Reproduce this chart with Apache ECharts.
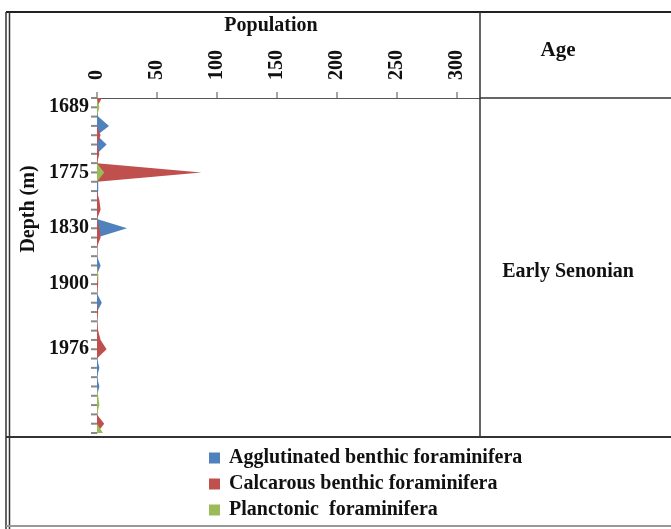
<!DOCTYPE html>
<html>
<head>
<meta charset="utf-8">
<script src="https://cdn.jsdelivr.net/npm/echarts@6/dist/echarts.min.js"></script>
<style>html,body{margin:0;padding:0;background:#fff}#c{width:671px;height:529px}</style>
</head>
<body>
<div id="c"></div>
<script>
// sample positions (top to bottom) and the depth labels shown on the axis
const categories = ['S1','S2','S3','S4','S5','S6','S7','S8','S9','S10','S11','S12','S13','S14','S15','S16','S17','S18','S19','S20','S21','S22','S23','S24','S25','S26','S27','S28','S29','S30','S31','S32','S33','S34','S35','S36','S37'];
const depthLabels = ['','1689','','','','','','','1775','','','','','','1830','','','','','','1900','','','','','','','1976','','','','','','','','',''];
const xTicks = [0, 50, 100, 150, 200, 250, 300];
const seriesNames = ['Agglutinated benthic foraminifera', 'Calcarous benthic foraminifera', 'Planctonic  foraminifera'];
const agglutinated = [0,0,1,10,0,8,0,0,1,1,1,0,0,0,25,0,0,0,3,0,0,0,4,0,0,0,0,0,0,2,0,2,0,0,0,0,0];
const calcarous    = [4,0,0,0,3,0,2,0,87,0,0,2,3,0,2,3,0,0,0,1,1,0,0,1,0,1,3,8,0,0,0,0,0,0,0,6,0];
const planctonic   = [0,2,0,0,0,0,0,0,6,0,0,0,0,0,0,0,0,0,0,1,0,0,0,0,0,0,0,0,0,0,0,0,1,2,0,0,5];

const FONT = 'Liberation Serif';
const colors = ['#4F81BD', '#C0504D', '#9BBB59'];
const chart = echarts.init(document.getElementById('c'), null, {renderer: 'canvas'});

function mkSeries(name, data, color, z) {
  return {
    name: name, type: 'line', data: data, symbol: 'none', z: z,
    lineStyle: {width: 0}, itemStyle: {color: color},
    areaStyle: {color: color, opacity: 1}
  };
}
function line(x1, y1, x2, y2, w, c) {
  return {type: 'line', shape: {x1: x1, y1: y1, x2: x2, y2: y2}, style: {stroke: c, lineWidth: w}, silent: true, z: 100};
}
function txt(x, y, t, size, rot) {
  return {type: 'text', x: x, y: y, rotation: rot || 0, z: 100,
    style: {text: t, font: 'bold ' + size + 'px "' + FONT + '"', fill: '#111', align: 'center', verticalAlign: 'middle'}};
}

chart.setOption({
  animation: false,
  backgroundColor: '#fff',
  color: colors,
  grid: {left: 97, top: 98, width: 383, height: 335, containLabel: false},
  xAxis: {
    type: 'value', position: 'top', min: 0, max: 319, interval: 50,
    splitLine: {show: false},
    axisLine: {show: true, onZero: false, lineStyle: {color: '#555', width: 1}},
    axisTick: {show: true, length: 6, lineStyle: {color: '#888', width: 1.5}},
    axisLabel: {
      rotate: -90, margin: 18, fontFamily: FONT, fontWeight: 'bold', fontSize: 20, color: '#111',
      showMaxLabel: false,
      formatter: function (v) { return xTicks.indexOf(v) >= 0 ? String(v) : ''; }
    }
  },
  yAxis: {
    type: 'category', inverse: true, boundaryGap: false, data: categories,
    axisLine: {show: true, onZero: false, lineStyle: {color: '#aaa', width: 1}},
    axisTick: {show: false},
    axisLabel: {
      show: true, interval: 0, margin: 8, fontFamily: FONT, fontWeight: 'bold', fontSize: 20, color: '#111',
      formatter: function (v, i) { return depthLabels[i]; }
    },
    splitLine: {show: false}
  },
  legend: {
    orient: 'vertical', left: 204, top: 443, itemWidth: 11, itemHeight: 11, itemGap: 6,
    icon: 'rect',
    textStyle: {fontFamily: FONT, fontWeight: 'bold', fontSize: 20, color: '#111', padding: [0, 0, 0, 4]},
    data: seriesNames
  },
  series: [
    mkSeries(seriesNames[0], agglutinated, colors[0], 2),
    mkSeries(seriesNames[1], calcarous, colors[1], 3),
    mkSeries(seriesNames[2], planctonic, colors[2], 4),
    {
      // one short tick per sample position, placed through the depth axis scale
      name: 'depthTicks', type: 'custom', clip: false, silent: true, z: 5,
      data: categories.map(function (c) { return [0, c]; }),
      encode: {x: 0, y: 1},
      renderItem: function (params, api) {
        var p = api.coord([api.value(0), api.value(1)]);
        return {
          type: 'line',
          shape: {x1: p[0] - 6, y1: p[1], x2: p[0], y2: p[1]},
          style: {stroke: '#888', lineWidth: 2}
        };
      }
    }
  ],
  graphic: [
    line(6, 12, 671, 12, 2, '#222'),
    line(6, 12, 6, 529, 1.5, '#333'),
    line(9.5, 12, 9.5, 529, 1.5, '#333'),
    line(480, 12, 480, 437, 1.5, '#333'),
    line(480, 98, 671, 98, 1.5, '#333'),
    line(6, 437, 671, 437, 2, '#333'),
    line(6, 526, 671, 526, 2, '#999'),
    txt(271, 26, 'Population', 20),
    txt(558, 51, 'Age', 21),
    txt(568, 272, 'Early Senonian', 20),
    txt(29, 209, 'Depth (m)', 20, Math.PI / 2)
  ]
});
</script>
</body>
</html>
